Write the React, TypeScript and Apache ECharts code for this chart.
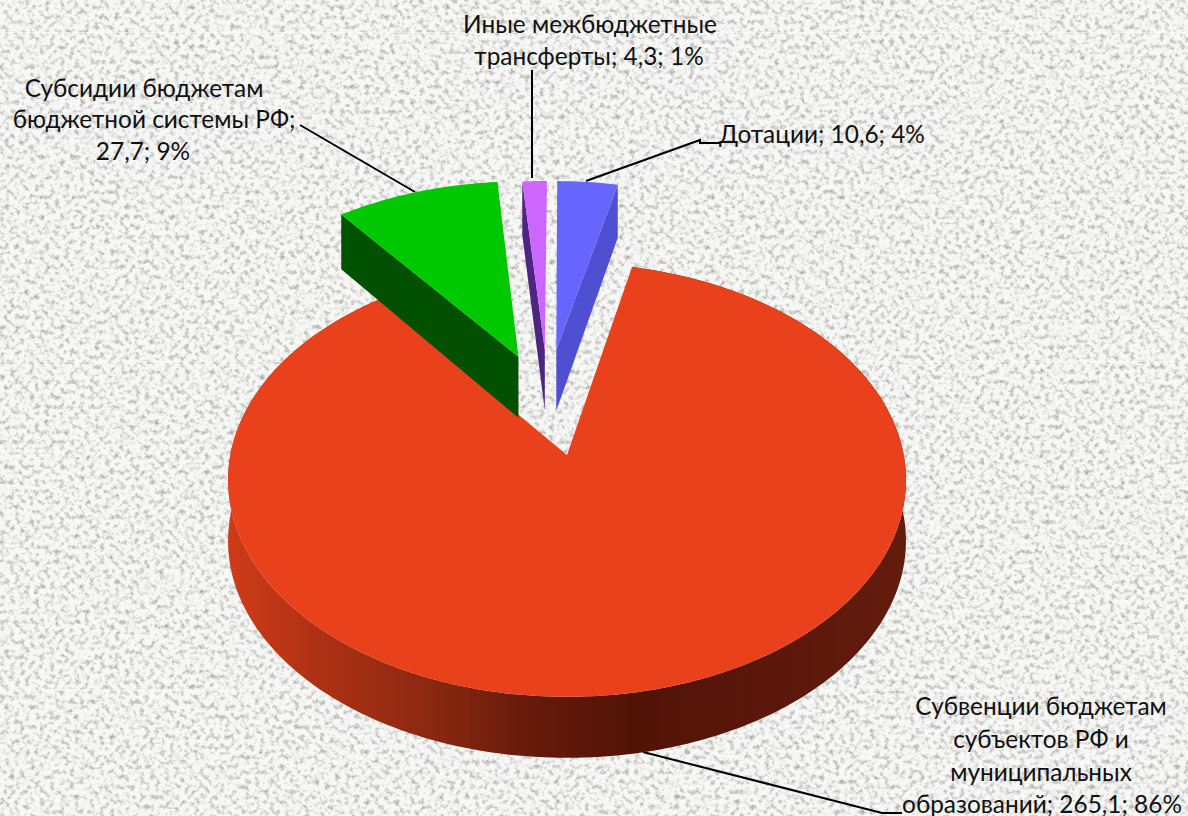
import React, { useEffect, useRef } from "react";
import * as echarts from "echarts";

const categories = ["Дотации", "Субвенции", "Субсидии", "Иные межбюджетные трансферты"];
const values = [10.6, 265.1, 27.7, 4.3];
const percents = [4, 86, 9, 1];
const labelLines = [
  ["Дотации"],
  ["Субвенции бюджетам", "субъектов РФ и", "муниципальных", "образований"],
  ["Субсидии бюджетам", "бюджетной системы РФ;"],
  ["Иные межбюджетные", "трансферты"],
];
const topColors = ["#6666FF", "#E9411B", "#00C800", "#CC66FF"];
const wallColors = ["#4F4FD2", "#7A2410", "#015101", "#50257F"];

const total = values.reduce((a, b) => a + b, 0);
const DEG = Math.PI / 180;
const spans = values.map((v) => (v / total) * 360);
const starts = spans.map((_, i) => spans.slice(0, i).reduce((a, b) => a + b, 0));
const mids = spans.map((s, i) => starts[i] + s / 2);

const sliceExplode = [0.2586, 0.27, 0.237, 0.2586];
const sliceRadius = [0.98, 1, 1.015, 0.98];
const sliceNudge = [-1, 0, -2.5, 0];
const offset = (i: number) => [sliceExplode[i] * Math.sin(mids[i] * DEG), sliceExplode[i] * Math.cos(mids[i] * DEG)];
const redOffset = offset(1);
const VX = 567, VY = 455, AX = 336.7, BY = 214, K = 0.115;

const project = (i: number, u: number, v: number) => {
  const du = u - redOffset[0];
  const w = v - redOffset[1];
  const s = 1 + K * w;
  return [VX + (AX * du) / s + sliceNudge[i], VY - (BY * w) / s, w];
};
const arcPoint = (i: number, deg: number) => {
  const o = offset(i);
  const r = sliceRadius[i];
  return project(i, o[0] + r * Math.sin(deg * DEG), o[1] + r * Math.cos(deg * DEG));
};
const down = (p: number[]) => [p[0], p[1] + 61 - Math.max(0, p[2] - 0.5) * 8];

const renderItem = (params: any, api: any) => {
  const i = params.dataIndex;
  const span = (api.value(0) / total) * 360;
  const from = starts[i];
  const to = from + span;
  const arc: number[][] = [];
  for (let a = from; a < to; a += 1) arc.push(arcPoint(i, a));
  arc.push(arcPoint(i, to));
  const o = offset(i);
  const apex = project(i, o[0], o[1]);
  const children: any[] = [];
  if (span > 180) {
    children.push({
      type: "polygon",
      shape: { points: [...arc.map((p) => p.slice(0, 2)), ...arc.map(down).reverse()] },
      style: {
        fill: new echarts.graphic.LinearGradient(0, 0, 1, 0, [
          { offset: 0, color: "#CF3B18" },
          { offset: 0.12, color: "#B23214" },
          { offset: 0.3, color: "#8A2810" },
          { offset: 0.45, color: "#651A0A" },
          { offset: 0.6, color: "#521407" },
          { offset: 0.8, color: "#5A170A" },
          { offset: 1, color: "#641C0C" },
        ]),
      },
    });
  } else {
    const edge = from > 180 ? arc[0] : arc[arc.length - 1];
    children.push({
      type: "polygon",
      shape: { points: [apex.slice(0, 2), edge.slice(0, 2), down(edge), down(apex)] },
      style: { fill: wallColors[i] },
    });
  }
  children.push({
    type: "polygon",
    shape: { points: [apex.slice(0, 2), ...arc.map((p) => p.slice(0, 2))] },
    style: { fill: topColors[i] },
  });
  return { type: "group", children };
};

const FONT = 'Lato, "Open Sans", "Noto Sans", sans-serif';
const textLine = (text: string, x: number, y: number) => ({
  type: "text",
  x,
  y,
  silent: true,
  style: { text, fill: "#111", font: `24.4px ${FONT}`, textAlign: "center", textVerticalAlign: "middle" },
});
const leader = (points: number[][]) => ({
  type: "polyline",
  silent: true,
  shape: { points },
  style: { stroke: "#000", lineWidth: 2, fill: "none" },
});
const fmt = (v: number) => String(v).replace(".", ",");
const tail = (i: number) => `${fmt(values[i])}; ${percents[i]}%`;

const texture =
  "url(\"data:image/svg+xml," +
  encodeURIComponent(
    `<svg xmlns='http://www.w3.org/2000/svg' width='1188' height='816'><filter id='n' x='0' y='0' width='100%' height='100%' color-interpolation-filters='sRGB'><feTurbulence type='fractalNoise' baseFrequency='0.2' numOctaves='4' seed='7'/><feColorMatrix values='0.75 0 0 0 0.6  0.75 0 0 0 0.6  0.75 0 0 0 0.595  0 0 0 0 1'/><feColorMatrix values='0.97 0 0 0 0  0 0.97 0 0 0  0 0 0.965 0 0  0 0 0 1 0'/><feGaussianBlur stdDeviation='0.7'/></filter><rect width='1188' height='816' filter='url(#n)'/></svg>`
  ) +
  "\")";
const seams =
  "linear-gradient(to bottom, transparent 32px, rgba(255,255,255,.55) 32px, rgba(255,255,255,.55) 33px, transparent 33px, transparent 361px, rgba(255,255,255,.55) 361px, rgba(255,255,255,.55) 362px, transparent 362px, transparent 690px, rgba(255,255,255,.55) 690px, rgba(255,255,255,.55) 691px, transparent 691px)";

export default function App() {
  const ref = useRef<HTMLDivElement>(null);
  useEffect(() => {
    if (!ref.current) return;
    const chart = echarts.init(ref.current, undefined, { renderer: "svg" });
    chart.setOption({
      animation: false,
      backgroundColor: "transparent",
      series: [
        {
          type: "custom",
          coordinateSystem: "none",
          silent: true,
          renderItem,
          data: values.map((v, i) => ({ name: categories[i], value: [v] })),
        },
      ],
      graphic: [
        leader([[586, 181], [700, 140], [700, 143], [720, 143]]),
        leader([[415, 192], [300, 125]]),
        leader([[532, 178], [532, 70]]),
        leader([[643, 752], [882, 813], [902, 813]]),
        textLine(`${labelLines[0][0]}; ${tail(0)}`, 822, 133),
        textLine(labelLines[3][0], 590, 23),
        textLine(`${labelLines[3][1]}; ${tail(3)}`, 589, 55),
        textLine(labelLines[2][0], 144, 87),
        textLine(labelLines[2][1], 154, 118),
        textLine(tail(2), 143, 150),
        textLine(labelLines[1][0], 1041, 705),
        textLine(labelLines[1][1], 1041, 738),
        textLine(labelLines[1][2], 1041, 771),
        textLine(`${labelLines[1][3]}; ${tail(1)}`, 1042, 803),
      ],
    });
    return () => chart.dispose();
  }, []);
  return (
    <div
      style={{ position: "fixed", left: 0, top: 0, width: 1188, height: 816, backgroundImage: `${seams}, ${texture}`, backgroundColor: "#ebebe8" }}
    >
      <div ref={ref} style={{ width: 1188, height: 816 }} />
    </div>
  );
}
